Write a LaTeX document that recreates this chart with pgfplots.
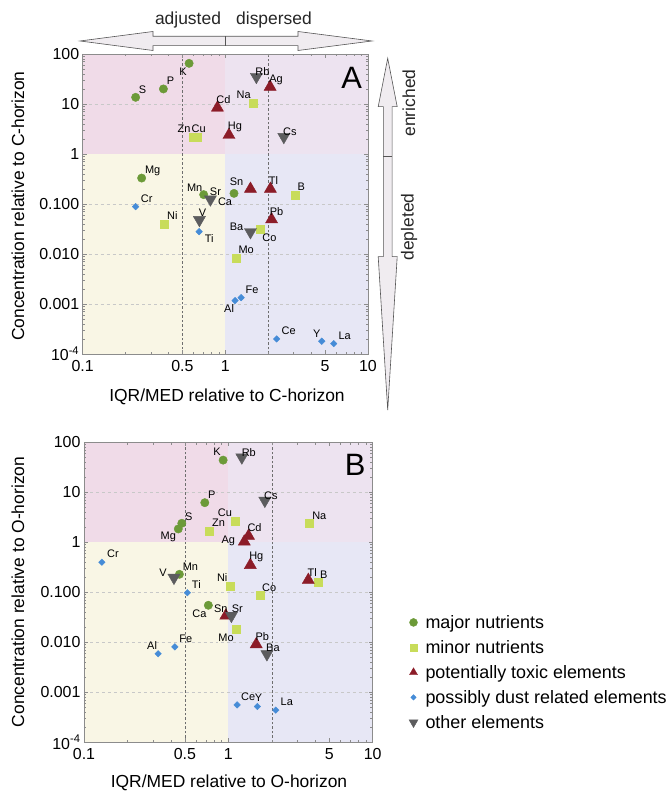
\documentclass[border=0pt]{standalone}
\usepackage{fontspec}
\setmainfont{Liberation Sans}
\usepackage{pgfplots}
\usepackage{pgfplotstable}
\pgfplotsset{compat=1.18}

\definecolor{cMaj}{RGB}{108,154,56}
\definecolor{cMin}{RGB}{200,220,90}
\definecolor{cTox}{RGB}{140,28,40}
\definecolor{cDust}{RGB}{70,140,215}
\definecolor{cOth}{RGB}{92,92,94}
\definecolor{qTL}{RGB}{240,219,232}
\definecolor{qTR}{RGB}{237,227,240}
\definecolor{qBL}{RGB}{249,246,229}
\definecolor{qBR}{RGB}{231,231,245}
\definecolor{axgray}{RGB}{140,140,140}
\definecolor{gridc}{RGB}{200,200,200}
\definecolor{vgrid}{RGB}{110,110,110}
\definecolor{arrfill}{RGB}{240,236,240}
\definecolor{arrdraw}{RGB}{85,85,85}

\newcommand\ticksize{\fontsize{16}{19}\selectfont}
\newcommand\labsize{\fontsize{11}{13}\selectfont}
\newcommand\bigsize{\fontsize{17.5}{21}\selectfont}
\newcommand\legsize{\fontsize{18}{21}\selectfont}

% ---------- Panel A data ----------
\pgfplotstableread{
x y lab dx dy
0.557 65 K -6 -8
0.235 13.6 S 7 8
0.368 20 P 7 8
0.259 0.33 Mg 11 7
0.705 0.154 Mn -9 7
1.15 0.163 Ca -9 -8
}\Amaj
\pgfplotstableread{
x y lab dx dy
1.58 10.3 Na -10 9
0.594 2.19 Zn -9 8
0.64 2.19 Cu 1 8
3.09 0.151 B 6 8
0.374 0.04 Ni 8 8
1.76 0.031 Co 9 -8
1.19 0.0083 Mo 10 8
}\Amin
\pgfplotstableread{
x y lab dx dy
2.06 22 Ag 6 7
0.88 8.4 Cd 6 8
1.06 2.4 Hg 6 8
1.50 0.2 Sn -14 7
2.07 0.2 Tl 3 8
2.11 0.049 Pb 5 8
}\Atox
\pgfplotstableread{
x y lab dx dy
0.235 0.0885 Cr 11 8
0.655 0.028 Ti 10 -7
1.17 0.00117 Al -6 -8
1.29 0.00134 Fe 11 8
2.29 0.0002 Ce 12 8
4.74 0.00018 Y -5 8
5.75 0.000161 La 11 8
}\Adust
\pgfplotstableread{
x y lab dx dy
1.65 35 Rb 6 5
2.57 2.2 Cs 6 5
0.786 0.124 Sr 5 8
0.658 0.048 V 3 7
1.5 0.0275 Ba -14 5
}\Aoth

% ---------- Panel B data ----------
\pgfplotstableread{
x y lab dx dy
0.92 44 K -6 8
0.687 6.2 P 7 8
0.476 2.4 S 7 7
0.45 1.85 Mg -10 -8
0.458 0.229 Mn 11 8
0.727 0.055 Ca -9 -8
}\Bmaj
\pgfplotstableread{
x y lab dx dy
0.74 1.7 Zn 9 8
1.11 2.7 Cu -10 8
3.64 2.4 Na 10 8
1.03 0.134 Ni -8 8
4.16 0.158 B 6 8
1.66 0.086 Co 9 8
1.13 0.018 Mo -10 -8
}\Bmin
\pgfplotstableread{
x y lab dx dy
1.38 1.34 Cd 6 8
1.29 1.03 Ag -16 1
1.42 0.35 Hg 6 8
3.58 0.176 Tl 4 7
0.96 0.034 Sn -5 7
1.56 0.0091 Pb 6 8
}\Btox
\pgfplotstableread{
x y lab dx dy
0.133 0.4 Cr 11 8
0.52 0.098 Ti 9 8
0.326 0.0059 Al -6 8
0.426 0.0081 Fe 11 8
1.15 0.00056 Ce 11 8
1.59 0.00052 Y 1 9
2.13 0.00044 La 11 8
}\Bdust
\pgfplotstableread{
x y lab dx dy
1.24 50 Rb 7 5
1.79 6.8 Cs 6 5
0.42 0.196 V -11 5
1.05 0.034 Sr 6 7
1.85 0.0058 Ba 6 6
}\Both

\pgfplotsset{
  every axis/.append style={
    xmode=log, ymode=log, scale only axis, anchor=south west,
    xmin=0.1, xmax=10, ymin=1e-4, ymax=100,
    xtick={0.1,0.5,1,5,10}, xticklabels={0.1,0.5,1,5,10},
    minor xtick={0.2,0.3,0.4,0.6,0.7,0.8,0.9,2,3,4,6,7,8,9},
    ytick={1e-4,1e-3,1e-2,1e-1,1,10,100},
    yticklabels={10\textsuperscript{-4},0.001,0.010,0.100,1,10,100},
    minor ytick={2e-4,3e-4,4e-4,5e-4,6e-4,7e-4,8e-4,9e-4,
      2e-3,3e-3,4e-3,5e-3,6e-3,7e-3,8e-3,9e-3,
      0.02,0.03,0.04,0.05,0.06,0.07,0.08,0.09,
      0.2,0.3,0.4,0.5,0.6,0.7,0.8,0.9,
      2,3,4,5,6,7,8,9,20,30,40,50,60,70,80,90},
    tick align=inside, major tick length=4bp, minor tick length=2.5bp,
    tick style={axgray, line width=0.5bp},
    axis line style={axgray, line width=0.7bp},
    ticklabel style={font=\ticksize, text=black},
    xticklabel style={yshift=-3bp},
    axis on top, clip=false,
  },
  mygrp/.style n args={5}{only marks, mark=#1, color=#2, mark size=#3,
    mark options={rotate=#4},
    point meta=explicit symbolic, nodes near coords,
    visualization depends on={\thisrow{dx}\as\ldx},
    visualization depends on={\thisrow{dy}\as\ldy},
    every node near coord/.style={font=\labsize, text=black, anchor=center,
      inner sep=0pt, xshift={\ldx*1bp}, yshift={\ldy*1bp}},
    legend image code/.code={\path[draw=none, fill=none] (0bp,-6bp) rectangle (16bp,6bp);
      \draw[##1,mark size=#5] plot coordinates {(5bp,0bp)};}},
}

\newcommand\quadrants{%
  \fill[qTL] (axis cs:0.1,1) rectangle (axis cs:1,100);
  \fill[qTR] (axis cs:1,1) rectangle (axis cs:10,100);
  \fill[qBL] (axis cs:0.1,1e-4) rectangle (axis cs:1,1);
  \fill[qBR] (axis cs:1,1e-4) rectangle (axis cs:10,1);
  \draw[gridc, dashed, line width=0.5bp] (axis cs:0.1,10) -- (axis cs:10,10);
  \draw[gridc, dashed, line width=0.5bp] (axis cs:0.1,0.1) -- (axis cs:10,0.1);
  \draw[gridc, dashed, line width=0.5bp] (axis cs:0.1,0.01) -- (axis cs:10,0.01);
  \draw[gridc, dashed, line width=0.5bp] (axis cs:0.1,0.001) -- (axis cs:10,0.001);
  \draw[vgrid, dash pattern=on 2.5bp off 2bp, line width=0.6bp] (axis cs:0.5,1e-4) -- (axis cs:0.5,100);
  \draw[vgrid, dash pattern=on 2.5bp off 2bp, line width=0.6bp] (axis cs:2,1e-4) -- (axis cs:2,100);
}

\begin{document}
\begin{tikzpicture}
\path[use as bounding box] (0,0) rectangle (671bp,793bp);

% horizontal double arrow
\filldraw[fill=arrfill, draw=arrdraw, line width=0.6bp]
  (80bp,752bp) -- (153bp,761.5bp) -- (153bp,756.7bp) -- (298bp,756.7bp) -- (298bp,761.5bp)
  -- (372bp,752bp) -- (298bp,742.5bp) -- (298bp,747.3bp) -- (153bp,747.3bp) -- (153bp,742.5bp) -- cycle;
\draw[arrdraw, line width=0.6bp] (225.7bp,747.3bp) -- (225.7bp,756.7bp);
\node[font=\bigsize, text=black!85] at (188bp,773bp) {adjusted};
\node[font=\bigsize, text=black!85] at (274bp,773bp) {dispersed};

% vertical double arrow
\filldraw[fill=arrfill, draw=arrdraw, line width=0.6bp]
  (387.7bp,734.7bp) -- (397.2bp,686.3bp) -- (392.1bp,686.3bp) -- (392.1bp,536.3bp) -- (397.2bp,536.3bp)
  -- (387.7bp,383bp) -- (378.2bp,536.3bp) -- (383.3bp,536.3bp) -- (383.3bp,686.3bp) -- (378.2bp,686.3bp) -- cycle;
\draw[arrdraw, line width=0.6bp] (383.3bp,637bp) -- (392.1bp,637bp);
\node[font=\bigsize, text=black!85, rotate=90] at (409bp,690bp) {enriched};
\node[font=\bigsize, text=black!85, rotate=90] at (409bp,566bp) {depleted};

% ---------------- Panel A ----------------
\begin{axis}[at={(82.7bp,439bp)}, width=285.3bp, height=300bp]
  \quadrants
  \addplot[mygrp={*}{cMaj}{4.2bp}{0}{4bp}] table[x=x, y=y, meta=lab] {\Amaj};
  \addplot[mygrp={square*}{cMin}{4bp}{0}{3.5bp}] table[x=x, y=y, meta=lab] {\Amin};
  \addplot[mygrp={triangle*}{cTox}{7bp}{0}{4.6bp}] table[x=x, y=y, meta=lab] {\Atox};
  \addplot[mygrp={square*}{cDust}{2.3bp}{45}{1.9bp}] table[x=x, y=y, meta=lab] {\Adust};
  \addplot[mygrp={triangle*}{cOth}{7bp}{180}{5.2bp}] table[x=x, y=y, meta=lab] {\Aoth};
  \node[font=\fontsize{31}{36}\selectfont, inner sep=0pt] at (axis description cs:0.943,0.919) {A};
\end{axis}
\node[font=\bigsize] at (227bp,396bp) {IQR/MED relative to C-horizon};
\node[font=\bigsize, rotate=90] at (18bp,587bp) {Concentration relative to C-horizon};

% ---------------- Panel B ----------------
\begin{axis}[at={(84bp,50.7bp)}, width=288.7bp, height=300bp,
  legend style={at={(axis description cs:1.113,0.233)}, anchor=west,
    draw=none, fill=none, font=\legsize, cells={anchor=west},
    /tikz/row sep=8.5bp,
    nodes={inner sep=1pt}}]
  \quadrants
  \addplot[mygrp={*}{cMaj}{4.2bp}{0}{4bp}] table[x=x, y=y, meta=lab] {\Bmaj};
  \addplot[mygrp={square*}{cMin}{4bp}{0}{3.5bp}] table[x=x, y=y, meta=lab] {\Bmin};
  \addplot[mygrp={triangle*}{cTox}{7bp}{0}{4.6bp}] table[x=x, y=y, meta=lab] {\Btox};
  \addplot[mygrp={square*}{cDust}{2.3bp}{45}{1.9bp}] table[x=x, y=y, meta=lab] {\Bdust};
  \addplot[mygrp={triangle*}{cOth}{7bp}{180}{5.2bp}] table[x=x, y=y, meta=lab] {\Both};
  \legend{major nutrients, minor nutrients, potentially toxic elements, possibly dust related elements, other elements}
  \node[font=\fontsize{31}{36}\selectfont, inner sep=0pt] at (axis description cs:0.939,0.924) {B};
\end{axis}
\node[font=\bigsize] at (229bp,10bp) {IQR/MED relative to O-horizon};
\node[font=\bigsize, rotate=90] at (18bp,201bp) {Concentration relative to O-horizon};
\end{tikzpicture}
\end{document}
